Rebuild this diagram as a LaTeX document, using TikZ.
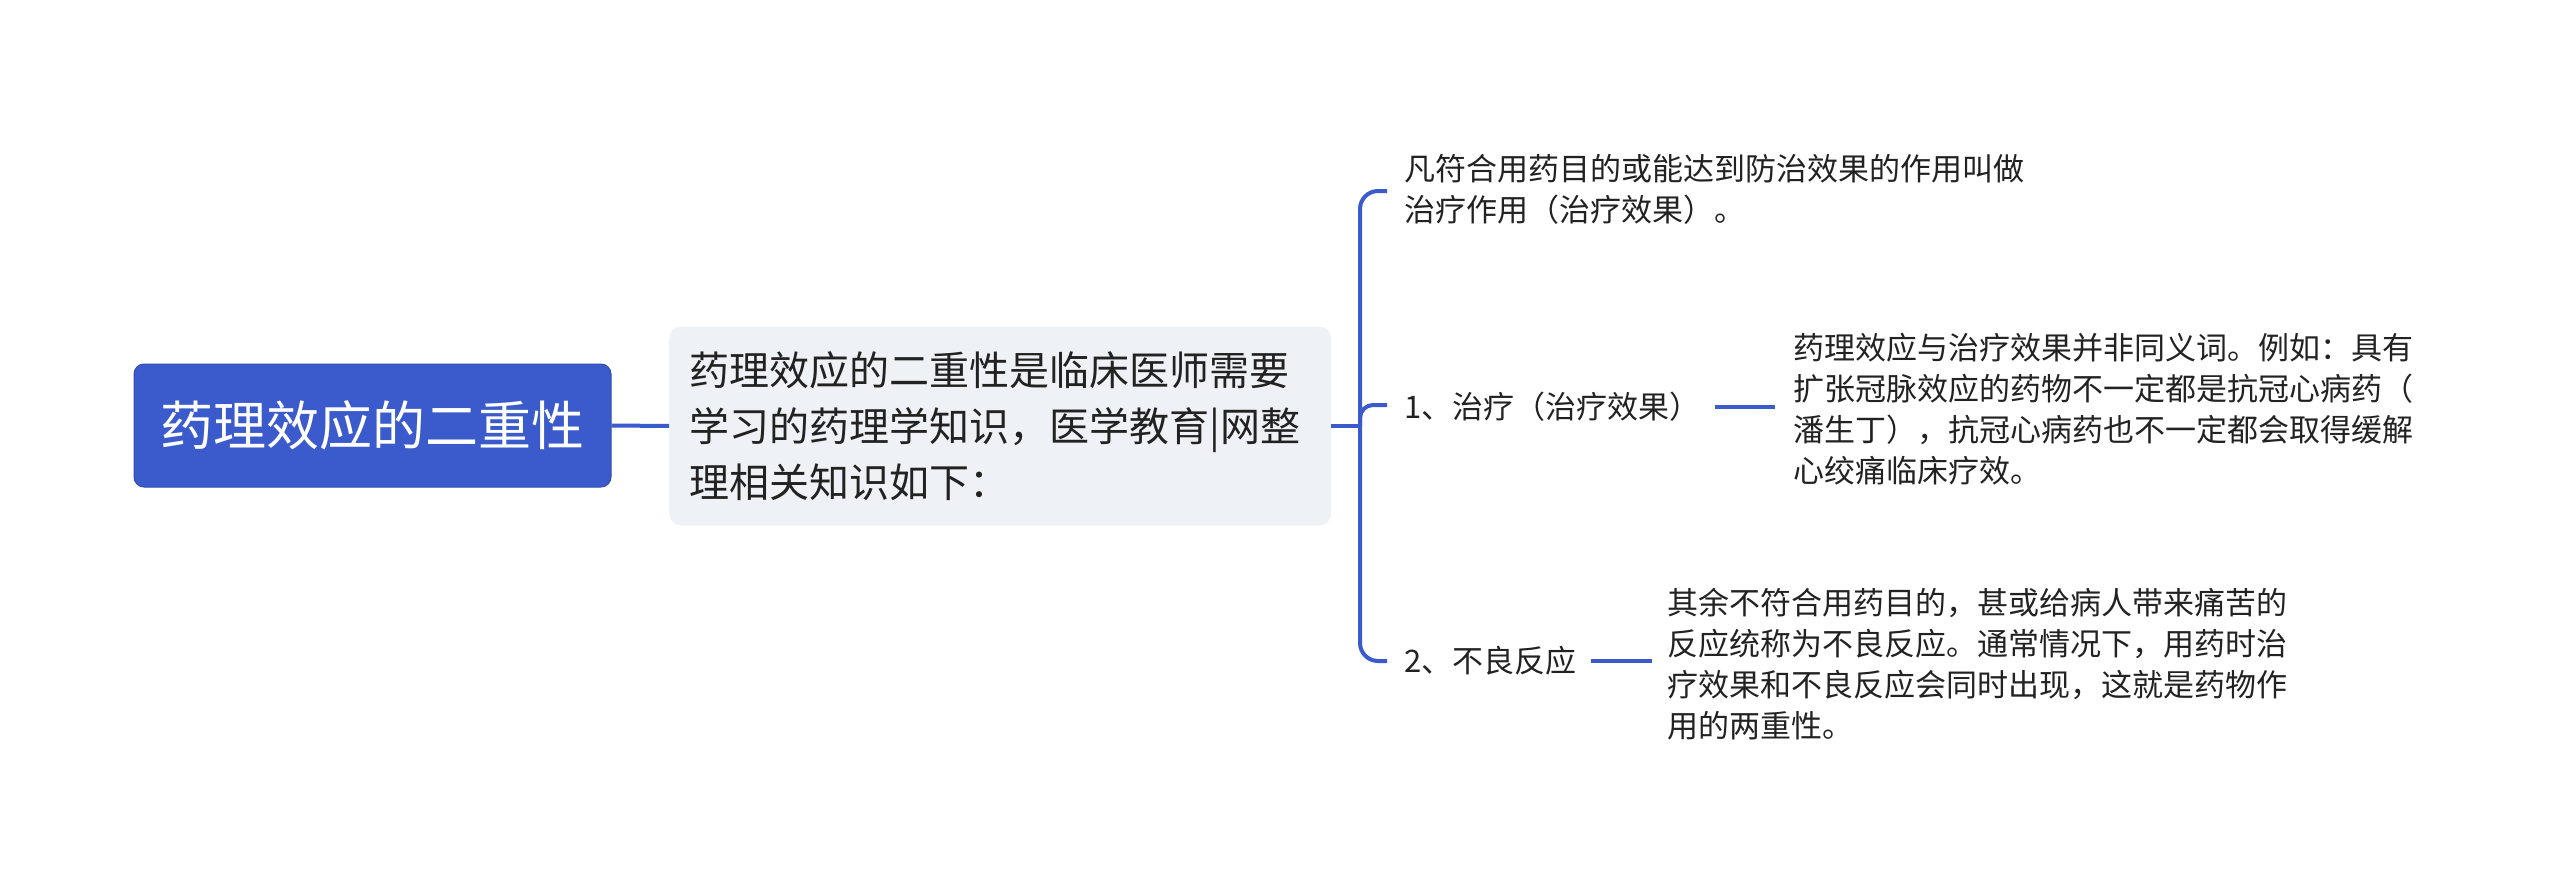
\documentclass[tikz,border=0pt]{standalone}
\usepackage{fontspec}
\setmainfont{Noto Sans CJK SC}
\definecolor{mblue}{HTML}{3B5BCD}
\definecolor{mgray}{HTML}{EEF1F5}
\definecolor{mtext}{HTML}{222222}
\begin{document}
\begin{tikzpicture}[x=1pt,y=1pt,
  rootbox/.style={fill=mblue, draw=mblue!85!black, line width=1pt, rounded corners=10pt,
    minimum width=477pt, minimum height=123pt, inner sep=0pt, text=white,
    font=\fontsize{53}{60}\selectfont},
  midbox/.style={fill=mgray, rounded corners=12pt, text width=622pt, inner xsep=20pt,
    inner ysep=0pt, minimum height=199pt, align=left, text=mtext,
    font=\fontsize{40}{56}\selectfont},
  leaf/.style={inner sep=0pt, align=left, text=mtext, font=\fontsize{31}{41}\selectfont},
  conn/.style={draw=mblue, line width=4pt}
]
\useasboundingbox (0,0) rectangle (2560,-891);
\node[rootbox] (root) at (372.5,-425.5) {药理效应的二重性};
\node[midbox, anchor=west] (mid) at (669,-426) {药理效应的二重性是临床医师需要\\学习的药理学知识，医学教育|网整\\理相关知识如下：};
\node[leaf, anchor=west] (t1) at (1404,-189) {凡符合用药目的或能达到防治效果的作用叫做\\治疗作用（治疗效果）。};
\node[leaf, anchor=west] (c1) at (1404,-407) {1、治疗（治疗效果）};
\node[leaf, anchor=west] (d1) at (1793,-409) {药理效应与治疗效果并非同义词。例如：具有\\扩张冠脉效应的药物不一定都是抗冠心病药（\\潘生丁），抗冠心病药也不一定都会取得缓解\\心绞痛临床疗效。};
\node[leaf, anchor=west] (c2) at (1404,-661) {2、不良反应};
\node[leaf, anchor=west] (d2) at (1667,-664) {其余不符合用药目的，甚或给病人带来痛苦的\\反应统称为不良反应。通常情况下，用药时治\\疗效果和不良反应会同时出现，这就是药物作\\用的两重性。};
\coordinate (j) at (1360,-426);
\coordinate (e1) at (1387,-191);
\coordinate (e2) at (1387,-405);
\coordinate (e3) at (1387,-661);
\draw[conn] (root.east) -- (mid.west);
\draw[conn] (mid.east) -- (j);
\draw[conn, rounded corners=18pt] (e1) -| (j) |- (e3);
\draw[conn, rounded corners=13pt] (j) |- (e2);
\draw[conn] ([xshift=14pt]c1.east) -- (1775,-407) coordinate (k1);
\draw[conn] ([xshift=14pt]c2.east) -- (1652,-661) coordinate (k2);
\end{tikzpicture}
\end{document}
